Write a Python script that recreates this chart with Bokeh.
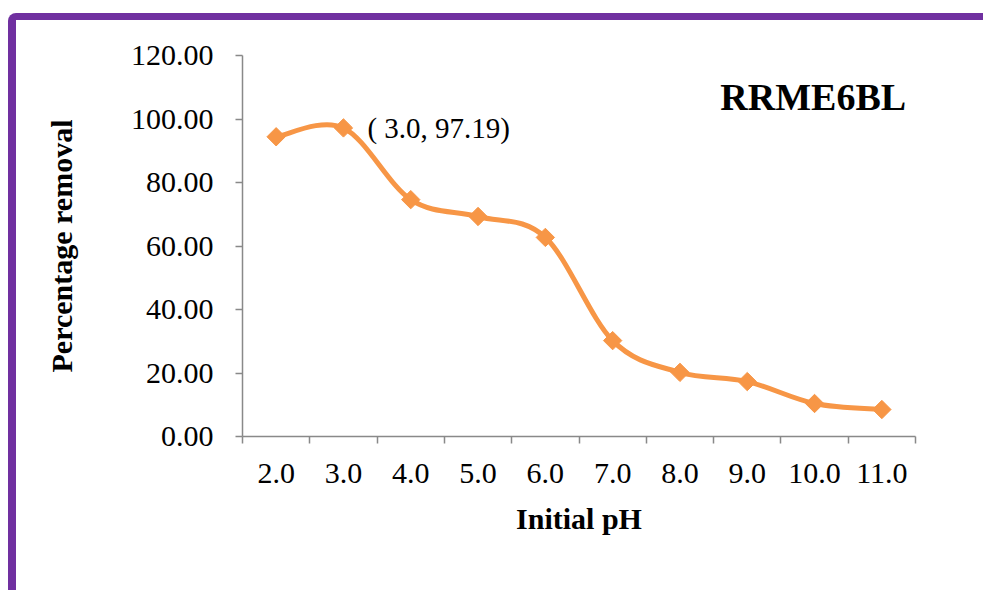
import numpy as np
from bokeh.plotting import figure
from bokeh.models import Range1d, FixedTicker, NumeralTickFormatter, Label
from bokeh.embed import file_html
from bokeh.resources import INLINE

ph_labels = ["2.0", "3.0", "4.0", "5.0", "6.0", "7.0", "8.0", "9.0", "10.0", "11.0"]
removal = [94.4, 97.19, 74.6, 69.3, 62.7, 30.2, 20.2, 17.3, 10.4, 8.5]
y_ticks = [0, 20, 40, 60, 80, 100, 120]
peak_text = "( 3.0, 97.19)"
title_text = "RRME6BL"

ORANGE = "#F79646"
AXIS = "#898989"
PURPLE = "#7030A0"
FONT = "Liberation Serif"

n = len(ph_labels)
x = np.arange(n) + 0.5
y = np.array(removal, dtype=float)

# Excel-like smooth curve: cubic Bezier segments (Catmull-Rom control points)
xp = np.concatenate([[x[0]], x, [x[-1]]])
yp = np.concatenate([[y[0]], y, [y[-1]]])
x0, y0 = x[:-1], y[:-1]
x1, y1 = x[1:], y[1:]
cx0 = x0 + (xp[2:n + 1] - xp[0:n - 1]) / 6.0
cy0 = y0 + (yp[2:n + 1] - yp[0:n - 1]) / 6.0
cx1 = x1 - (xp[3:n + 2] - xp[1:n]) / 6.0
cy1 = y1 - (yp[3:n + 2] - yp[1:n]) / 6.0

# purple frame (drawn as a CSS border on the figure element)
BL, BT = 8, 7            # border widths
OFF_X, OFF_Y = 16, 20    # canvas origin on the page
W, H = 983 - OFF_X, 590 - OFF_Y
CW, CH = W + BL, H + BT  # canvas size as laid out by Bokeh with the border
p = figure(width=W, height=H, output_backend="svg", toolbar_location=None,
           x_range=Range1d(0, n), y_range=Range1d(0, 120),
           min_border_left=242 - OFF_X, min_border_right=CW - (915 - OFF_X),
           min_border_top=55 - OFF_Y, min_border_bottom=CH - (436 - OFF_Y))
p.styles = {"box-sizing": "content-box", "margin-left": "8px", "margin-top": "13px",
            "border-left": f"{BL}px solid {PURPLE}", "border-top": f"{BT}px solid {PURPLE}",
            "border-top-left-radius": "8px"}
p.outline_line_color = None
p.xgrid.grid_line_color = None
p.ygrid.grid_line_color = None
p.background_fill_color = "white"
p.border_fill_color = "white"

p.bezier(x0=x0, y0=y0, x1=x1, y1=y1, cx0=cx0, cy0=cy0, cx1=cx1, cy1=cy1,
         line_color=ORANGE, line_width=5)
p.scatter(x, y, marker="square", angle=np.pi / 4, size=13,
          fill_color=ORANGE, line_color=ORANGE)

# x axis: labels at category centres, tick marks at boundaries
p.xaxis.ticker = FixedTicker(ticks=list(x), minor_ticks=list(range(n + 1)))
p.xaxis.major_label_overrides = {float(xi): lab for xi, lab in zip(x, ph_labels)}
p.xaxis.major_tick_line_color = None
p.xaxis.major_tick_in = 0
p.xaxis.major_tick_out = 0
p.xaxis.minor_tick_in = 0
p.xaxis.minor_tick_out = 7
p.xaxis.minor_tick_line_color = AXIS
p.xaxis.minor_tick_line_width = 1.5
p.xaxis.axis_line_color = AXIS
p.xaxis.axis_line_width = 1.5
p.xaxis.major_label_text_font = FONT
p.xaxis.major_label_text_font_size = "30px"
p.xaxis.major_label_text_color = "black"
p.xaxis.major_label_standoff = 20
p.xaxis.axis_label = "Initial pH"
p.xaxis.axis_label_text_font = FONT
p.xaxis.axis_label_text_font_style = "bold"
p.xaxis.axis_label_text_font_size = "30px"
p.xaxis.axis_label_text_color = "black"
p.xaxis.axis_label_standoff = 16

p.yaxis.ticker = FixedTicker(ticks=y_ticks)
p.yaxis.formatter = NumeralTickFormatter(format="0.00")
p.yaxis.minor_tick_line_color = None
p.yaxis.major_tick_in = 0
p.yaxis.major_tick_out = 7
p.yaxis.major_tick_line_color = AXIS
p.yaxis.major_tick_line_width = 1.5
p.yaxis.axis_line_color = AXIS
p.yaxis.axis_line_width = 1.5
p.yaxis.major_label_text_font = FONT
p.yaxis.major_label_text_font_size = "30px"
p.yaxis.major_label_text_color = "black"
p.yaxis.major_label_standoff = 22
p.yaxis.axis_label = "Percentage removal"
p.yaxis.axis_label_text_font = FONT
p.yaxis.axis_label_text_font_style = "bold"
p.yaxis.axis_label_text_font_size = "30px"
p.yaxis.axis_label_text_color = "black"
p.yaxis.axis_label_standoff = 50

p.add_layout(Label(x=x[1], y=removal[1], x_offset=24, text=peak_text,
                   text_font=FONT, text_font_size="29px", text_baseline="middle",
                   text_color="black"))
p.add_layout(Label(x=7.1, y=106.8, text=title_text, text_font=FONT,
                   text_font_style="bold", text_font_size="38px",
                   text_baseline="middle", text_color="black"))

open("out.html", "w").write(file_html(p, INLINE))
